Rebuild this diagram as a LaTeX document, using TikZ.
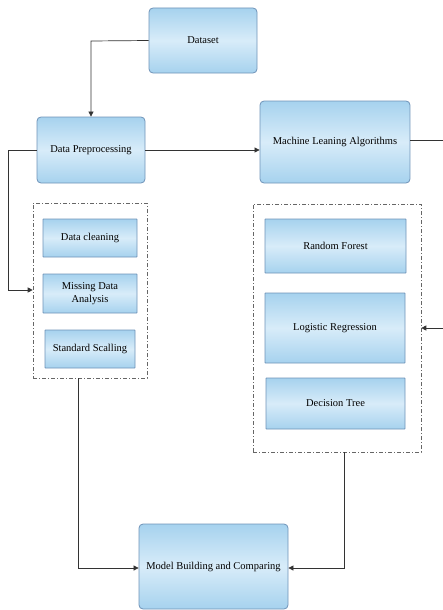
\documentclass[tikz,border=0pt]{standalone}
\usepackage{fontspec}
\setmainfont{Liberation Serif}
\usetikzlibrary{arrows.meta,shadows}
\definecolor{boxedge}{HTML}{6F93B8}
\definecolor{boxdark}{HTML}{A6D2EE}
\definecolor{boxlight}{HTML}{D8ECF9}
\tikzset{
  mainbox/.style={draw=boxedge, line width=0.8pt, rounded corners=4pt,
    top color=boxdark, bottom color=boxdark, middle color=boxlight,
    font=\fontsize{10.5}{12.5}\selectfont, align=center, inner sep=2pt},
  subbox/.style={draw=boxedge, line width=0.8pt, rounded corners=0.5pt,
    top color=boxdark, bottom color=boxdark, middle color=boxlight,
    font=\fontsize{10.5}{12.5}\selectfont, align=center, inner sep=1pt},
  groupbox/.style={draw=gray!80!black, line width=0.6pt, dash pattern=on 4pt off 2pt on 1pt off 2pt},
  conn/.style={draw=gray!40!black, line width=0.7pt},
  arr/.style={conn, -{Triangle[length=5pt,width=5pt]}}
}
\begin{document}
\begin{tikzpicture}[x=1pt,y=-1pt]
\useasboundingbox (0,0) rectangle (443,610);
% main boxes
\node[mainbox, minimum width=108pt, minimum height=65pt] (ds) at (203,40.5) {Dataset};
\node[mainbox, minimum width=108pt, minimum height=66pt] (dp) at (91,150) {Data Preprocessing};
\node[mainbox, minimum width=150pt, minimum height=82pt] (ml) at (335,142) {Machine Leaning Algorithms};
\node[mainbox, minimum width=149pt, minimum height=85pt] (mb) at (213.5,566.5) {Model Building and Comparing};
% left group
\node[groupbox, minimum width=114pt, minimum height=175pt] (lg) at (90,290.5) {};
\node[subbox, minimum width=94pt, minimum height=38pt] (dc) at (90,238) {Data cleaning};
\node[subbox, minimum width=94pt, minimum height=39pt] (md) at (90,293.5) {Missing Data\\Analysis};
\node[subbox, minimum width=90pt, minimum height=38pt] (ss) at (90,349) {Standard Scalling};
% right group
\node[groupbox, minimum width=168pt, minimum height=248pt] (rg) at (337,328) {};
\node[subbox, minimum width=141pt, minimum height=54pt] (rf) at (335.5,246) {Random Forest};
\node[subbox, minimum width=140pt, minimum height=70pt] (lr) at (335,328) {Logistic Regression};
\node[subbox, minimum width=139pt, minimum height=51pt] (dt) at (335.5,403.5) {Decision Tree};
% connectors
\coordinate (c1) at (91,41);
\draw[arr] (ds.west) -- (c1) -- (dp.north);
\draw[arr] (dp.east) -- (ml.west |- dp.east);
\coordinate (c2) at (8,150);
\coordinate (c3) at (8,290);
\draw[arr] (dp.west) -- (c2) -- (c3) -- (lg.west |- c3);
\coordinate (c4) at (443,140);
\coordinate (c5) at (443,328);
\draw[arr] (ml.east |- c4) -- (c4) -- (c5) -- (rg.east |- c5);
\coordinate (c6) at (78,568);
\draw[arr] (lg.south -| c6) -- (c6) -- (mb.west |- c6);
\coordinate (c7) at (344,568);
\draw[arr] (rg.south -| c7) -- (c7) -- (mb.east |- c7);
\end{tikzpicture}
\end{document}
